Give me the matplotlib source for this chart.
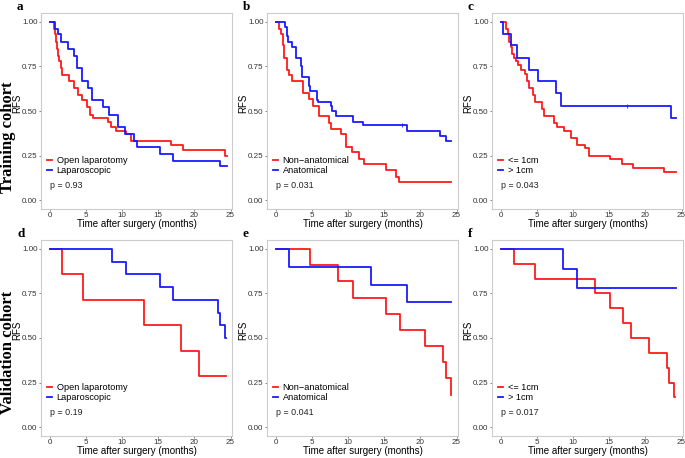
import matplotlib.pyplot as plt

plt.rcParams['font.family'] = ['Liberation Sans', 'DejaVu Sans']

RED = "#ff1a1a"
BLUE = "#1a1aff"

# Panel a: Training cohort, surgical approach
a_red_t = [0, 0.55, 0.7, 0.85, 1.0, 1.15, 1.3, 1.5, 1.7, 2.2, 2.7, 3.4, 3.9, 4.5, 5.2, 5.6, 6.0, 8.1, 8.5, 9.1, 10.5, 11.2, 16.8, 18.4, 24.2, 24.5]
a_red_s = [1.0, 0.96, 0.93, 0.89, 0.85, 0.81, 0.78, 0.74, 0.70, 0.70, 0.67, 0.63, 0.59, 0.56, 0.52, 0.48, 0.46, 0.44, 0.41, 0.39, 0.37, 0.33, 0.31, 0.28, 0.25, 0.25]
a_blue_t = [0, 0.8, 1.1, 1.5, 2.6, 3.4, 3.8, 4.5, 5.3, 5.9, 7.4, 8.2, 9.4, 10.4, 11.6, 12.1, 15.3, 17.1, 23.6, 24.5]
a_blue_s = [1.0, 0.96, 0.93, 0.89, 0.85, 0.81, 0.74, 0.67, 0.63, 0.56, 0.52, 0.48, 0.41, 0.37, 0.33, 0.30, 0.26, 0.22, 0.19, 0.19]

# Panel b: Training cohort, resection type
b_red_t = [0, 0.4, 0.8, 1.0, 1.15, 1.6, 1.8, 2.3, 3.8, 4.6, 5.2, 6.0, 7.4, 7.6, 9.0, 9.7, 10.6, 11.5, 12.2, 15.2, 16.6, 17.0, 24.2]
b_red_s = [1.0, 0.96, 0.93, 0.87, 0.80, 0.73, 0.70, 0.67, 0.60, 0.57, 0.53, 0.47, 0.43, 0.40, 0.37, 0.30, 0.27, 0.23, 0.20, 0.17, 0.13, 0.10, 0.10]
b_blue_t = [0, 1.3, 1.5, 1.7, 2.2, 2.8, 3.5, 3.7, 4.6, 4.8, 5.7, 5.9, 7.6, 7.8, 8.4, 10.7, 12.1, 18.2, 22.7, 23.5, 24.2]
b_blue_s = [1.0, 0.97, 0.92, 0.89, 0.86, 0.80, 0.75, 0.69, 0.64, 0.61, 0.56, 0.55, 0.53, 0.50, 0.47, 0.44, 0.42, 0.39, 0.36, 0.33, 0.33]

# Panel c: Training cohort, margin
c_red_t = [0, 0.8, 1.0, 1.2, 1.4, 1.6, 1.8, 2.1, 2.4, 2.8, 3.4, 3.7, 3.9, 4.5, 4.7, 5.7, 6.0, 7.4, 7.8, 8.8, 9.7, 10.6, 11.6, 12.2, 15.1, 16.7, 18.3, 22.6, 24.2]
c_red_s = [1.0, 0.96, 0.93, 0.89, 0.86, 0.82, 0.80, 0.78, 0.76, 0.73, 0.71, 0.67, 0.63, 0.59, 0.55, 0.51, 0.47, 0.43, 0.41, 0.39, 0.35, 0.31, 0.29, 0.25, 0.23, 0.20, 0.18, 0.16, 0.16]
c_blue_t = [0, 0.3, 1.4, 2.2, 3.9, 5.2, 7.6, 8.4, 23.5, 24.2]
c_blue_s = [1.0, 0.93, 0.87, 0.80, 0.73, 0.67, 0.60, 0.53, 0.46, 0.46]

# Panel d: Validation cohort, surgical approach
d_red_t = [0, 1.76, 4.6, 13.1, 18.1, 20.7, 24.4]
d_red_s = [1.0, 0.857, 0.714, 0.571, 0.429, 0.286, 0.286]
d_blue_t = [0, 8.6, 10.6, 15.3, 17.1, 23.2, 23.5, 24.3, 24.4]
d_blue_s = [1.0, 0.929, 0.857, 0.786, 0.714, 0.643, 0.571, 0.5, 0.5]

# Panel e: Validation cohort, resection type
e_red_t = [0, 4.7, 8.66, 10.7, 15.3, 17.2, 20.6, 23.1, 23.6, 24.2, 24.3]
e_red_s = [1.0, 0.909, 0.818, 0.727, 0.636, 0.545, 0.455, 0.364, 0.273, 0.18, 0.18]
e_blue_t = [0, 1.8, 13.2, 18.2, 24.3]
e_blue_s = [1.0, 0.9, 0.8, 0.7, 0.7]

# Panel f: Validation cohort, margin
f_red_t = [0, 1.8, 4.7, 13.0, 15.1, 16.9, 18.0, 20.5, 23.0, 23.3, 24.0, 24.1]
f_red_s = [1.0, 0.917, 0.833, 0.75, 0.667, 0.583, 0.5, 0.417, 0.333, 0.25, 0.167, 0.167]
f_blue_t = [0, 8.6, 10.5, 24.2]
f_blue_s = [1.0, 0.889, 0.778, 0.778]

panels = [
    ("a", a_red_t, a_red_s, a_blue_t, a_blue_s, "Open laparotomy", "Laparoscopic", "p = 0.93", None),
    ("b", b_red_t, b_red_s, b_blue_t, b_blue_s, "Non\u2212anatomical", "Anatomical", "p = 0.031", (17.5, 0.42)),
    ("c", c_red_t, c_red_s, c_blue_t, c_blue_s, "<= 1cm", "> 1cm", "p = 0.043", (17.5, 0.53)),
    ("d", d_red_t, d_red_s, d_blue_t, d_blue_s, "Open laparotomy", "Laparoscopic", "p = 0.19", None),
    ("e", e_red_t, e_red_s, e_blue_t, e_blue_s, "Non\u2212anatomical", "Anatomical", "p = 0.041", None),
    ("f", f_red_t, f_red_s, f_blue_t, f_blue_s, "<= 1cm", "> 1cm", "p = 0.017", None),
]

fig = plt.figure(figsize=(6.85, 4.58), dpi=100)

W, H = 685, 458
lefts = [41, 267, 492]
tops = [13, 240]
aw, ah = 191, 196

for i, (letra, rt, rs, bt, bs, lab_r, lab_b, ptxt, censura) in enumerate(panels):
    fila, col = divmod(i, 3)
    x0 = lefts[col] / W
    y0 = 1 - (tops[fila] + ah) / H
    ax = fig.add_axes([x0, y0, aw / W, ah / H])

    ax.step(rt, rs, where="post", color=RED, lw=1.3, label=lab_r)
    ax.step(bt, bs, where="post", color=BLUE, lw=1.3, label=lab_b)
    if censura is not None:
        ax.plot(censura[0], censura[1], marker="|", color=BLUE, ms=3, mew=0.6)

    ax.set_xlim(-1.2, 25.2)
    ax.set_ylim(-0.05, 1.05)
    ax.set_xticks([0, 5, 10, 15, 20, 25])
    ax.set_yticks([0, 0.25, 0.5, 0.75, 1.0])
    ax.set_yticklabels(["0.00", "0.25", "0.50", "0.75", "1.00"])
    ax.tick_params(labelsize=5.8, length=1.5, width=0.5, colors="#4d4d4d",
                   pad=1, labelcolor="#333333")
    for sp in ax.spines.values():
        sp.set_color("#cccccc")
        sp.set_linewidth(0.8)
    ax.set_xlabel("Time after surgery (months)", fontsize=7, labelpad=0)
    ax.set_ylabel("RFS", fontsize=7)
    ax.yaxis.set_label_coords(-0.098, 0.54)

    ax.legend(loc="lower left", bbox_to_anchor=(0.0, 0.14), frameon=False,
              fontsize=6.6, handlelength=0.55, handletextpad=0.45,
              labelspacing=0.12, borderaxespad=0.3)
    ax.text(0.047, 0.12, ptxt, transform=ax.transAxes, fontsize=6.4,
            va="center", ha="left", color="#222222")

    fig.text((lefts[col] - 24) / W, 1 - (tops[fila] - 6) / H, letra,
             fontsize=9.5, fontweight="bold", family="Liberation Serif",
             ha="left", va="center")

fig.text(8 / W, 1 - 137 / H, "Training cohort", rotation=90, fontsize=12,
         fontweight="bold", family="Liberation Serif", ha="center", va="center")
fig.text(8 / W, 1 - 352 / H, "Validation cohort", rotation=90, fontsize=12,
         fontweight="bold", family="Liberation Serif", ha="center", va="center")

fig.savefig("out.png", dpi=100)
